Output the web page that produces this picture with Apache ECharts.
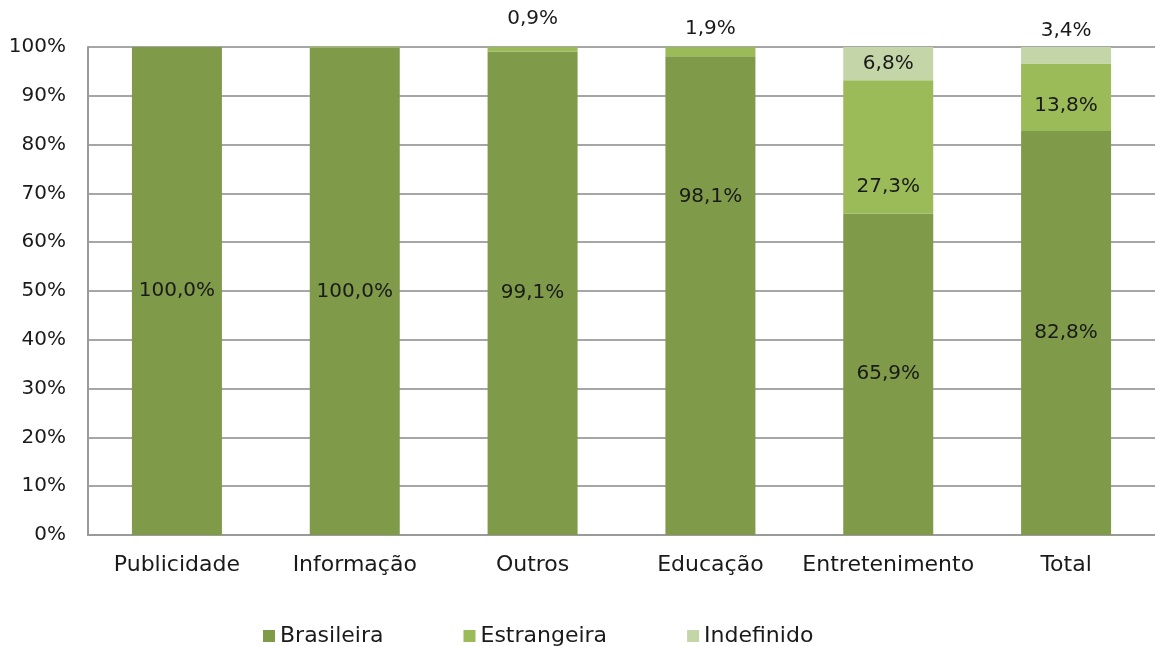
<!DOCTYPE html>
<html>
<head>
<meta charset="utf-8">
<script src="https://cdn.jsdelivr.net/npm/echarts@6/dist/echarts.min.js"></script>
<style>
html,body{margin:0;padding:0;background:#fff;}
#chart{width:1155px;height:646px;}
</style>
</head>
<body>
<div id="chart"></div>
<script>
const categories = ['Publicidade', 'Informação', 'Outros', 'Educação', 'Entretenimento', 'Total'];
const seriesNames = ['Brasileira', 'Estrangeira', 'Indefinido'];
const brasileira = [100.0, 99.8, 99.1, 98.1, 65.9, 82.8];
const estrangeira = [0, 0.2, 0.9, 1.9, 27.3, 13.8];
const indefinido = [0, 0, 0, 0, 6.8, 3.4];
const brasileiraLabels = ['100,0%', '100,0%', '99,1%', '98,1%', '65,9%', '82,8%'];
const estrangeiraLabels = ['', '', '0,9%', '1,9%', '27,3%', '13,8%'];
const indefinidoLabels = ['', '', '', '', '6,8%', '3,4%'];
const yTicks = [0, 10, 20, 30, 40, 50, 60, 70, 80, 90, 100];

const FONT = "'DejaVu Sans', sans-serif";
const colors = ['#7f9a48', '#9bbb59', '#c4d6a8'];

const baseLabel = { show: true, color: '#1a1a1a', fontSize: 20, fontFamily: FONT };

function items(values, labels, overrides) {
  return values.map((v, i) => {
    const it = { value: v };
    const lab = Object.assign({}, baseLabel, { formatter: labels[i] || '' }, overrides[i] || {});
    if (!labels[i]) lab.show = false;
    it.label = lab;
    return it;
  });
}

const brasOverrides = { 3: { position: 'inside', offset: [0, -99] } };
const estrOverrides = {
  2: { position: 'top', distance: 18 },
  3: { position: 'top', distance: 8 },
  4: { position: 'insideBottom', distance: 17 },
  5: { position: 'insideBottom', distance: 15 }
};
const indOverrides = {
  4: { position: 'inside' },
  5: { position: 'top', distance: 6 }
};

const chart = echarts.init(document.getElementById('chart'));
chart.setOption({
  animation: false,
  textStyle: { fontFamily: FONT },
  grid: { left: 88, right: 0, top: 47, bottom: 111, containLabel: false },
  legend: {
    top: 620,
    left: 258,
    itemWidth: 12, itemHeight: 12, itemGap: 80,
    icon: 'rect',
    textStyle: { fontSize: 22, color: '#1a1a1a', fontFamily: FONT },
    data: seriesNames
  },
  xAxis: {
    type: 'category',
    data: categories,
    axisLine: { lineStyle: { color: '#9a9a9a', width: 2 } },
    axisTick: { show: false },
    axisLabel: { interval: 0, fontSize: 22, color: '#1a1a1a', margin: 19, fontFamily: FONT }
  },
  yAxis: {
    type: 'value',
    min: yTicks[0], max: yTicks[yTicks.length - 1], interval: 10,
    axisLine: { show: true, lineStyle: { color: '#9a9a9a', width: 2 } },
    axisTick: { show: false },
    splitLine: { lineStyle: { color: '#a6a6a6', width: 2 } },
    axisLabel: { fontSize: 20, color: '#1a1a1a', margin: 22, fontFamily: FONT, formatter: v => v + '%' }
  },
  series: [
    { name: seriesNames[0], type: 'bar', stack: 's', barWidth: 90, color: colors[0],
      itemStyle: { color: colors[0] }, data: items(brasileira, brasileiraLabels, brasOverrides) },
    { name: seriesNames[1], type: 'bar', stack: 's', barWidth: 90, color: colors[1],
      itemStyle: { color: colors[1] }, data: items(estrangeira, estrangeiraLabels, estrOverrides) },
    { name: seriesNames[2], type: 'bar', stack: 's', barWidth: 90, color: colors[2],
      itemStyle: { color: colors[2] }, data: items(indefinido, indefinidoLabels, indOverrides) }
  ]
});
</script>
</body>
</html>
